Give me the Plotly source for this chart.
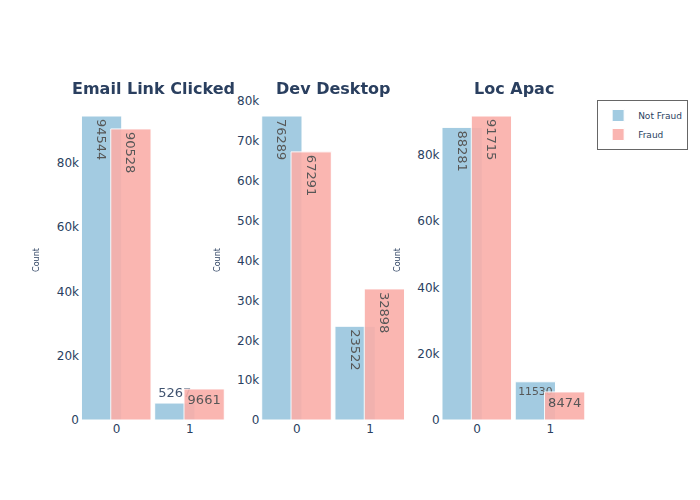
import plotly.graph_objects as go
from plotly.subplots import make_subplots

features = ["Email Link Clicked", "Dev Desktop", "Loc Apac"]
categories = [0, 1]
not_fraud = [[94544, 5267], [76289, 23522], [88281, 11530]]
fraud = [[90528, 9661], [67291, 32898], [91715, 8474]]
series_names = ["Not Fraud", "Fraud"]

colors = ["rgb(153,198,222)", "rgb(250,174,169)"]
offsets = [-0.48, -0.08]

fig = make_subplots(rows=1, cols=3, subplot_titles=[f"<b>{f}</b>" for f in features])

for i, feat in enumerate(features):
    for j, (name, vals) in enumerate(zip(series_names, [not_fraud[i], fraud[i]])):
        fig.add_trace(
            go.Bar(
                x=categories,
                y=vals,
                name=name,
                showlegend=(i == 0),
                marker=dict(color=colors[j], line=dict(color="white", width=1)),
                opacity=0.9,
                width=0.55,
                offset=offsets[j],
                text=vals,
                textposition="auto",
                textfont=dict(size=13),
            ),
            row=1, col=i + 1,
        )
    fig.update_xaxes(range=[-0.5, 1.5], tickvals=categories, showgrid=False, zeroline=False,
                     row=1, col=i + 1)
    fig.update_yaxes(title_text="Count", title_font=dict(size=8), showgrid=False, zeroline=False,
                     row=1, col=i + 1)

fig.update_annotations(font=dict(size=16, color="#2a3f5f"))
fig.update_layout(
    template="plotly_white",
    barmode="overlay",
    width=700, height=500,
    font=dict(family="DejaVu Sans", color="#2a3f5f"),
    legend=dict(bordercolor="#666", borderwidth=1, font=dict(size=9)),
)

fig.write_html("out.html", config={"displayModeBar": False},
               post_script="document.body.style.margin='0';")
